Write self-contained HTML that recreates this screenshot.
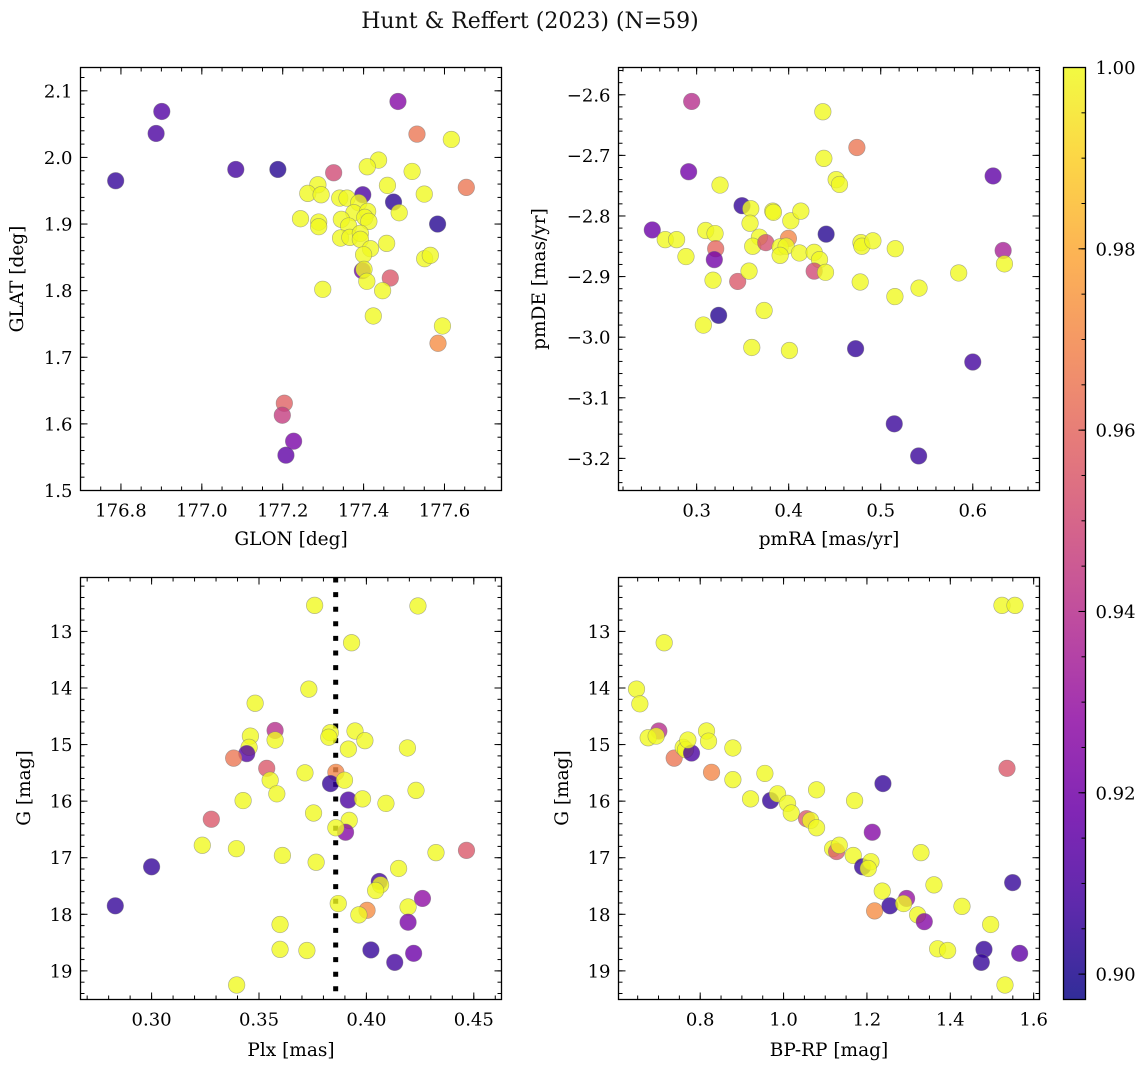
<!DOCTYPE html>
<html><head><meta charset="utf-8"><style>
html,body{margin:0;padding:0;background:#fff;}
svg{display:block;font-family:"DejaVu Serif","Liberation Serif",serif;}
</style></head><body>
<svg id="fig" width="1148" height="1067" viewBox="0 0 1148 1067" xmlns="http://www.w3.org/2000/svg">
<rect width="1148" height="1067" fill="#fff"/>
<text x="530" y="28" font-size="22" text-anchor="middle" fill="#111">Hunt &amp; Reffert (2023) (N=59)</text>
<text x="291" y="545" font-size="18.5" text-anchor="middle">GLON [deg]</text>
<text x="23" y="279" font-size="18.5" text-anchor="middle" transform="rotate(-90 23 279)">GLAT [deg]</text>
<text x="829" y="545" font-size="18.5" text-anchor="middle">pmRA [mas/yr]</text>
<text x="545" y="279" font-size="18.5" text-anchor="middle" transform="rotate(-90 545 279)">pmDE [mas/yr]</text>
<text x="291" y="1056" font-size="18.5" text-anchor="middle">Plx [mas]</text>
<text x="30" y="788" font-size="18.5" text-anchor="middle" transform="rotate(-90 30 788)">G [mag]</text>
<text x="829" y="1056" font-size="18.5" text-anchor="middle">BP-RP [mag]</text>
<text x="568" y="788" font-size="18.5" text-anchor="middle" transform="rotate(-90 568 788)">G [mag]</text>
</svg>
<script>
// ---- data ----
const p1X=[176.787,176.887,176.901,177.084,177.188,177.485,177.532,177.617,177.437,177.409,177.326,177.520,177.654,177.287,177.459,177.262,177.295,177.398,177.550,177.341,177.359,177.388,177.474,177.488,177.376,177.410,177.403,177.413,177.244,177.289,177.289,177.345,177.363,177.583,177.343,177.366,177.392,177.392,177.457,177.417,177.400,177.551,177.565,177.397,177.401,177.408,177.466,177.299,177.447,177.424,177.595,177.584,177.204,177.199,177.227,177.208];
const p1Y=[1.965,2.036,2.069,1.982,1.982,2.084,2.035,2.027,1.996,1.986,1.977,1.979,1.955,1.959,1.958,1.946,1.944,1.944,1.945,1.939,1.939,1.932,1.933,1.917,1.917,1.919,1.910,1.904,1.908,1.903,1.896,1.907,1.897,1.900,1.879,1.880,1.886,1.877,1.871,1.863,1.854,1.848,1.853,1.830,1.832,1.814,1.819,1.802,1.800,1.762,1.747,1.721,1.631,1.613,1.574,1.553];
const p1C=[0.905,0.91,0.912,0.908,0.902,0.925,0.965,1,1,1,0.95,1,0.965,1,1,1,1,0.91,1,1,1,1,0.903,1,1,1,1,1,1,1,1,1,1,0.902,1,1,1,1,1,1,1,1,1,0.92,1,1,0.955,1,1,1,1,0.972,0.958,0.945,0.922,0.915];

const p2X=[0.2946,0.2913,0.2518,0.2659,0.2782,0.2884,0.3254,0.3098,0.3200,0.3207,0.3192,0.3178,0.3073,0.3239,0.3446,0.3493,0.3588,0.3580,0.3682,0.3609,0.3751,0.3569,0.3733,0.3599,0.3827,0.3834,0.3997,0.3907,0.3972,0.3907,0.4023,0.4132,0.4117,0.4008,0.4277,0.4335,0.4277,0.4400,0.4407,0.4371,0.4382,0.4516,0.4552,0.4741,0.4785,0.4795,0.4915,0.4777,0.4727,0.5158,0.5154,0.5416,0.5147,0.5412,0.5847,0.6000,0.6221,0.6330,0.6344];
const p2Y=[-2.611,-2.727,-2.823,-2.839,-2.839,-2.867,-2.749,-2.824,-2.829,-2.854,-2.872,-2.906,-2.980,-2.964,-2.908,-2.783,-2.788,-2.812,-2.835,-2.850,-2.844,-2.891,-2.956,-3.017,-2.792,-2.794,-2.837,-2.851,-2.850,-2.865,-2.808,-2.792,-2.861,-3.022,-2.860,-2.872,-2.891,-2.893,-2.830,-2.628,-2.705,-2.740,-2.748,-2.687,-2.844,-2.850,-2.841,-2.909,-3.019,-2.854,-2.933,-2.919,-3.143,-3.196,-2.894,-3.041,-2.734,-2.857,-2.879];
const p2C=[0.94,0.92,0.918,1,1,1,1,1,1,0.96,0.92,1,1,0.902,0.955,0.905,1,1,1,1,0.952,1,1,1,1,1,0.97,1,1,1,1,1,1,1,1,1,0.95,1,0.902,1,1,1,1,0.965,1,1,1,1,0.905,1,1,1,0.906,0.906,1,0.908,0.915,0.935,1];

const p3X=[0.3759,0.4240,0.3931,0.3732,0.3482,0.3575,0.3575,0.3460,0.3454,0.3443,0.3382,0.3536,0.3552,0.3583,0.3426,0.3278,0.3236,0.3395,0.3609,0.3766,0.3754,0.3714,0.3832,0.3825,0.3858,0.3833,0.3898,0.3916,0.3947,0.3993,0.3916,0.3982,0.4091,0.3920,0.3903,0.3858,0.4191,0.4231,0.4324,0.4466,0.4150,0.4060,0.4066,0.4043,0.3869,0.4003,0.3965,0.4194,0.4261,0.4194,0.3598,0.3598,0.3723,0.4021,0.4132,0.4220,0.3396,0.3000,0.2831];
const p3Y=[12.54,12.55,13.20,14.02,14.27,14.75,14.92,14.85,15.05,15.16,15.24,15.42,15.63,15.87,15.99,16.32,16.78,16.84,16.96,17.08,16.21,15.50,14.79,14.87,15.49,15.69,15.63,15.08,14.76,14.93,15.98,15.96,16.04,16.34,16.55,16.47,15.06,15.81,16.91,16.87,17.19,17.42,17.48,17.58,17.81,17.93,18.01,17.87,17.72,18.14,18.18,18.62,18.64,18.63,18.85,18.69,19.25,17.16,17.85];
const p3C=[1,1,1,1,1,0.94,1,1,1,0.912,0.965,0.955,1,1,1,0.955,1,1,1,1,1,1,1,1,0.97,0.905,1,1,1,1,0.91,1,1,1,0.925,1,1,1,1,0.955,1,0.908,1,1,1,0.972,1,1,0.928,0.922,1,1,1,0.905,0.908,0.918,1,0.905,0.905];
const plxMean=[0.3857];

const p4X=[0.7136,0.6472,0.6552,0.7008,0.6752,0.6944,0.7376,0.7592,0.7648,0.7792,0.7704,0.8152,0.8200,0.8272,0.8784,0.8784,0.9552,0.9208,0.9688,0.9856,1.0096,1.0184,1.0552,1.0648,1.0792,1.0792,1.1176,1.1272,1.1336,1.1672,1.1704,1.1896,1.2096,1.2032,1.2384,1.2128,1.2368,1.2184,1.2552,1.2952,1.2880,1.3216,1.3376,1.3296,1.3608,1.4280,1.3696,1.3936,1.4968,1.4808,1.4744,1.5664,1.5496,1.5360,1.5240,1.5552,1.5312];
const p4Y=[13.20,14.02,14.28,14.76,14.88,14.85,15.24,15.05,15.09,15.15,14.92,14.76,14.94,15.49,15.06,15.62,15.51,15.96,15.99,15.87,16.04,16.21,16.31,16.34,16.47,15.80,16.84,16.89,16.78,16.96,15.99,17.16,17.07,17.19,15.69,16.55,17.59,17.94,17.85,17.72,17.81,18.01,18.13,16.91,17.48,17.86,18.61,18.64,18.18,18.62,18.85,18.69,17.44,15.42,12.54,12.54,19.25];
const p4C=[1,1,1,0.94,1,1,0.965,1,1,0.91,1,1,1,0.97,1,1,1,1,0.905,1,1,1,0.955,1,1,1,1,0.955,1,1,1,0.905,1,1,0.905,0.925,1,0.972,0.905,0.93,1,1,0.925,1,1,1,1,1,1,0.905,0.905,0.915,0.905,0.955,1,1,1];

const cbTicks=[0.90,0.92,0.94,0.96,0.98,1.00];

// ---- rendering ----
const NS="http://www.w3.org/2000/svg";
const svg=document.getElementById('fig');
const CMIN=0.8972,CMAX=1.0;
const PL=[[13,8,135],[65,4,157],[106,0,168],[143,13,164],[177,42,144],[204,71,120],[225,100,98],[242,132,75],[252,166,54],[252,206,37],[240,249,33]];
function plasma(t){t=Math.max(0,Math.min(1,t));const f=t*10,i=Math.min(9,Math.floor(f)),u=f-i;const a=PL[i],b=PL[i+1];return 'rgb('+[0,1,2].map(k=>Math.round(a[k]+(b[k]-a[k])*u)).join(',')+')';}
function mk(tag,attrs,parent){const e=document.createElementNS(NS,tag);for(const k in attrs)e.setAttribute(k,attrs[k]);(parent||svg).appendChild(e);return e;}
function fmt(v,d){const s=Math.abs(v).toFixed(d);return (v< -1e-9?'\u2212':'')+s;}

function panel(cfg){
  const {x0,x1,y0,y1,xmin,xmax,ymin,ymax,invY}=cfg;
  const sx=v=>x0+(v-xmin)/(xmax-xmin)*(x1-x0);
  const sy=v=>invY? y0+(v-ymin)/(ymax-ymin)*(y1-y0) : y1-(v-ymin)/(ymax-ymin)*(y1-y0);
  const g=mk('g',{});
  
  
  const ax=mk('g',{},g);
  
  
  function ticks(min,max,step,len,isX,labels,dec){
    const n0=Math.ceil(min/step-1e-6),n1=Math.floor(max/step+1e-6);
    for(let n=n0;n<=n1;n++){const v=n*step;
      if(isX){const x=sx(v);
        mk('line',{x1:x,x2:x,y1:y1,y2:y1-len,stroke:'#000','stroke-width':1},ax);
        mk('line',{x1:x,x2:x,y1:y0,y2:y0+len,stroke:'#000','stroke-width':1},ax);
        if(labels){const t=mk('text',{x:x,y:y1+26,'font-size':18,'text-anchor':'middle'},ax);t.textContent=fmt(v,dec);
          
          }
      }else{const y=sy(v);
        mk('line',{x1:x0,x2:x0+len,y1:y,y2:y,stroke:'#000','stroke-width':1},ax);
        mk('line',{x1:x1,x2:x1-len,y1:y,y2:y,stroke:'#000','stroke-width':1},ax);
        if(labels){const t=mk('text',{x:x0-8,y:y+6.5,'font-size':18,'text-anchor':'end'},ax);t.textContent=fmt(v,dec);
          
          }
      }}
  }
  ticks(xmin,xmax,cfg.xminor,4,true,false);
  ticks(xmin,xmax,cfg.xmajor,7,true,true,cfg.xdec);
  ticks(Math.min(ymin,ymax),Math.max(ymin,ymax),cfg.yminor,4,false,false);
  ticks(Math.min(ymin,ymax),Math.max(ymin,ymax),cfg.ymajor,7,false,true,cfg.ydec);
  if(cfg.vline!==undefined){const l=mk('line',{x1:sx(cfg.vline),x2:sx(cfg.vline),y1:y0,y2:y1,stroke:'#000','stroke-width':5,'stroke-dasharray':'5 9.6'},g);
    
    }
  const pts=mk('g',{},g);
  
  
  for(let i=0;i<cfg.X.length;i++){
    const c=mk('circle',{cx:sx(cfg.X[i]),cy:sy(cfg.Y[i]),r:8.3,fill:plasma((cfg.C[i]-CMIN)/(CMAX-CMIN)),'fill-opacity':0.8,stroke:'#777','stroke-opacity':0.6,'stroke-width':0.6},pts);
    
    
  }
  const fr=mk('rect',{x:x0,y:y0,width:x1-x0,height:y1-y0,fill:'none',stroke:'#000','stroke-width':1.3},g);
  
  
}

panel({name:'glon-glat-panel',x0:80.5,x1:501.5,y0:67.5,y1:490.5,xmin:176.70,xmax:177.741,ymin:1.5,ymax:2.135,xmajor:0.2,xminor:0.05,ymajor:0.1,yminor:0.02,xdec:1,ydec:1,X:p1X,Y:p1Y,C:p1C});
panel({name:'proper-motion-panel',x0:618.5,x1:1039.5,y0:67.5,y1:490.5,xmin:0.2151,xmax:0.6725,ymin:-3.253,ymax:-2.555,xmajor:0.1,xminor:0.02,ymajor:0.1,yminor:0.02,xdec:1,ydec:1,X:p2X,Y:p2Y,C:p2C});
panel({name:'plx-g-panel',x0:80.5,x1:501.5,y0:577.5,y1:999.5,xmin:0.2669,xmax:0.4629,ymin:12.047,ymax:19.506,invY:true,xmajor:0.05,xminor:0.01,ymajor:1,yminor:0.2,xdec:2,ydec:0,X:p3X,Y:p3Y,C:p3C,vline:plxMean[0]});
panel({name:'cmd-panel',x0:618.5,x1:1039.5,y0:577.5,y1:999.5,xmin:0.604,xmax:1.614,ymin:12.047,ymax:19.506,invY:true,xmajor:0.2,xminor:0.05,ymajor:1,yminor:0.2,xdec:1,ydec:0,X:p4X,Y:p4Y,C:p4C});

(function(){
  const x0=1063.5,x1=1085.5,y0=67.5,y1=999.5;
  const defs=mk('defs',{});
  const gr=mk('linearGradient',{id:'plasmaGrad',x1:0,y1:1,x2:0,y2:0},defs);
  for(let i=0;i<=20;i++){mk('stop',{offset:(i/20),'stop-color':plasma(i/20),'stop-opacity':0.85},gr);}
  const cb=mk('g',{});
  
  
  mk('rect',{x:x0,y:y0,width:x1-x0,height:y1-y0,fill:'url(#plasmaGrad)',stroke:'#000','stroke-width':1.3},cb);
  const sy=v=>y1-(v-CMIN)/(CMAX-CMIN)*(y1-y0);
  for(let n=Math.ceil(CMIN/0.005);n<=Math.floor(CMAX/0.005+1e-6);n++){const y=sy(n*0.005);
    mk('line',{x1:x1,x2:x1-4,y1:y,y2:y,stroke:'#000','stroke-width':1},cb);}
  cbTicks.forEach(v=>{const y=sy(v);
    mk('line',{x1:x1,x2:x1-7,y1:y,y2:y,stroke:'#000','stroke-width':1},cb);
    const t=mk('text',{x:x1+10,y:y+6.5,'font-size':18},cb);t.textContent=v.toFixed(2);
    
    
  });
})();
</script>
</body></html>
